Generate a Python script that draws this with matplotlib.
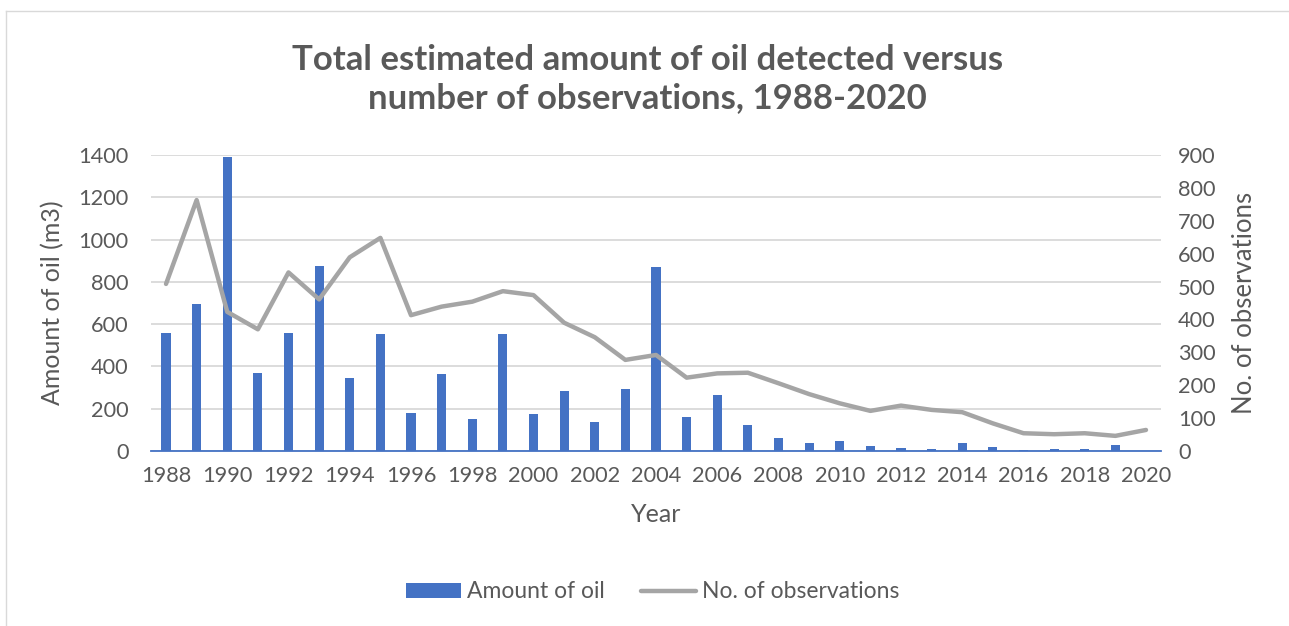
import matplotlib
matplotlib.use("Agg")
import matplotlib.pyplot as plt
from matplotlib.lines import Line2D
from matplotlib.patches import Patch

plt.rcParams['font.family'] = ['Lato', 'DejaVu Sans']

years = list(range(1988, 2021))
oil = [560, 695, 1390, 369, 557, 875, 347, 553, 178, 366, 151, 553, 174, 284,
       139, 293, 872, 161, 266, 123, 63, 38, 47, 24, 14, 10, 40, 20, 5, 10,
       10, 27, 0]
observations = [508, 763, 423, 370, 543, 461, 589, 648, 413, 439, 454, 486,
                474, 390, 346, 277, 292, 223, 236, 238, 206, 173, 145, 122,
                138, 125, 118, 84, 54, 51, 54, 46, 64]

left_ticks = [0, 200, 400, 600, 800, 1000, 1200, 1400]
right_ticks = [0, 100, 200, 300, 400, 500, 600, 700, 800, 900]

BLUE = '#4472C4'
GREY = '#A5A5A5'
TXT = '#595959'
GRID = '#D9D9D9'

W, H = 1289, 626
fig = plt.figure(figsize=(W / 100, H / 100), dpi=100)
ax = fig.add_axes([150.7 / W, 1 - 451 / H, (1161.3 - 150.7) / W, (451 - 155) / H])

x = list(range(len(years)))
ax.bar(x, oil, width=0.3, color=BLUE, zorder=2)
ax.set_xlim(-0.5, len(years) - 0.5)
ax.set_ylim(0, 1400)
ax.set_yticks(left_ticks)
ax.grid(axis='y', color=GRID, linewidth=1.3, zorder=0)
ax.set_axisbelow(True)
ax.set_xticks(x[::2])
ax.set_xticklabels([str(y) for y in years[::2]])
for s in ['top', 'left', 'right']:
    ax.spines[s].set_visible(False)
ax.spines['bottom'].set_color(BLUE)
ax.spines['bottom'].set_linewidth(1.3)
ax.tick_params(axis='both', length=0, labelsize=15.7, labelcolor=TXT)
ax.tick_params(axis='y', pad=16)
ax.tick_params(axis='x', pad=11)
ax.set_ylabel('Amount of oil (m3)', fontsize=18, color=TXT, labelpad=10)
ax.set_xlabel('Year', fontsize=18, color=TXT, labelpad=12)

ax2 = ax.twinx()
ax2.plot(x, observations, color=GREY, linewidth=3.2, solid_capstyle='round',
         solid_joinstyle='round', zorder=3)
ax2.set_ylim(0, 900)
ax2.set_yticks(right_ticks)
for s in ['top', 'left', 'right', 'bottom']:
    ax2.spines[s].set_visible(False)
ax2.tick_params(axis='y', length=0, labelsize=15.7, labelcolor=TXT, pad=12)
ax2.set_ylabel('No. of observations', fontsize=18.5, color=TXT, labelpad=12)

fig.text(0.502, 1 - 79 / H, 'Total estimated amount of oil detected versus\nnumber of observations, 1988-2020',
         ha='center', va='center', fontsize=25, fontweight='bold', color=TXT,
         linespacing=1.25)

handles = [Patch(facecolor=BLUE), Line2D([], [], color=GREY, linewidth=3.2, solid_capstyle='round')]
fig.legend(handles, ['Amount of oil', 'No. of observations'], loc='center',
           bbox_to_anchor=(0.5 + 8 / W, 1 - 592 / H), ncol=2, frameon=False,
           fontsize=16.5, labelcolor=TXT, handlelength=2.4, handleheight=0.6,
           handletextpad=0.25, columnspacing=1.6)

# light chart-area border
fig.add_artist(Line2D([6 / W, 6 / W], [0, 1 - 11 / H], transform=fig.transFigure, color=GRID, linewidth=1))
fig.add_artist(Line2D([6 / W, 1], [1 - 11 / H, 1 - 11 / H], transform=fig.transFigure, color=GRID, linewidth=1))

fig.savefig('out.png', dpi=100)
